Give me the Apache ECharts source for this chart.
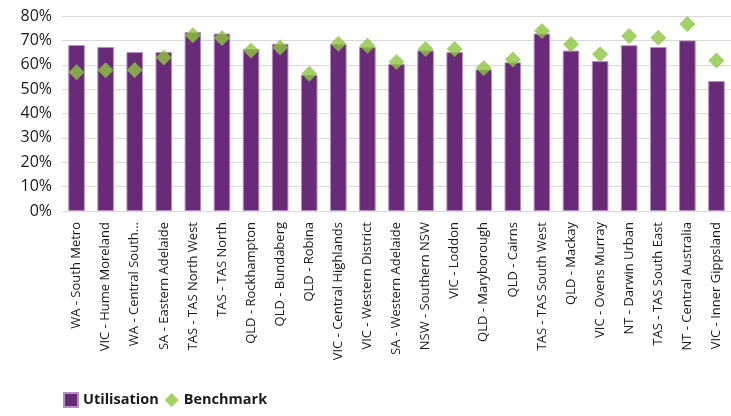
<!DOCTYPE html>
<html>
<head>
<meta charset="utf-8">
<script src="https://cdn.jsdelivr.net/npm/echarts@6/dist/echarts.min.js"></script>
<style>html,body{margin:0;padding:0;background:#fff}#c{width:731px;height:416px}</style>
</head>
<body>
<div id="c"></div>
<script>
const categories = ["WA - South Metro","VIC - Hume Moreland","WA - Central South...","SA - Eastern Adelaide","TAS - TAS North West","TAS - TAS North","QLD - Rockhampton","QLD - Bundaberg","QLD - Robina","VIC - Central Highlands","VIC - Western District","SA - Western Adelaide","NSW - Southern NSW","VIC - Loddon","QLD - Maryborough","QLD - Cairns","TAS - TAS South West","QLD - Mackay","VIC - Ovens Murray","NT - Darwin Urban","TAS - TAS South East","NT - Central Australia","VIC - Inner Gippsland"];
const utilisation = [68.1,67.3,65.2,65.2,73.4,72.8,66.5,68.6,55.9,68.6,67.3,60.3,65.9,65.2,58.1,61.0,72.8,65.8,61.5,68.0,67.3,70.0,53.3];
const benchmark = [56.9,57.7,57.8,63.0,72.1,71.0,65.8,67.1,56.3,68.6,67.8,61.1,66.5,66.5,58.7,62.2,73.8,68.4,64.3,71.8,71.1,76.7,61.7];
const yTicks = [0,10,20,30,40,50,60,70,80];

const chart = echarts.init(document.getElementById('c'));
const font = '"Open Sans", "Noto Sans", sans-serif';
chart.setOption({
  animation:false,
  textStyle:{fontFamily:font},
  grid:{left:62,right:0,top:16,bottom:205},
  legend:{
    left:58, top:387, itemWidth:14, itemHeight:14, itemGap:6,
    textStyle:{fontFamily:font,fontWeight:'bold',fontSize:14.5,color:'#1a1a1a'},
    data:[{name:'Utilisation',icon:'rect'},{name:'Benchmark',icon:'diamond'}]
  },
  xAxis:{
    type:'category', data:categories,
    axisLine:{lineStyle:{color:'#d9d9d9'}},
    axisTick:{show:false},
    axisLabel:{rotate:90,interval:0,fontSize:13,color:'#1a1a1a',margin:11,fontFamily:font}
  },
  yAxis:{
    type:'value', min:0, max:80, interval:10,
    axisLine:{show:false}, axisTick:{show:false},
    splitLine:{lineStyle:{color:'#d9d9d9',width:1}},
    axisLabel:{formatter:v=>yTicks.includes(v)?v+'%':'',fontSize:16,color:'#1a1a1a',margin:10,fontFamily:font}
  },
  series:[
    {name:'Utilisation',type:'bar',data:utilisation,barWidth:'57%',
     itemStyle:{color:'#692a77',borderColor:'#b58fbf',borderWidth:1}},
    {name:'Benchmark',type:'scatter',data:benchmark,symbol:'diamond',symbolSize:[16,16],
     itemStyle:{color:'#8cc63f'},z:5}
  ]
});
</script>
</body>
</html>
